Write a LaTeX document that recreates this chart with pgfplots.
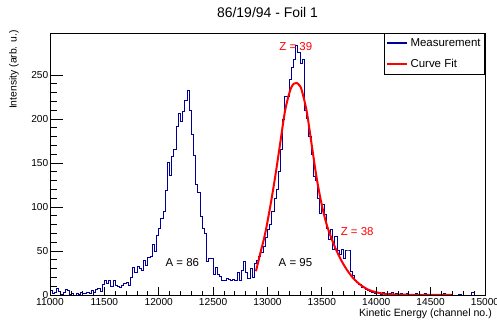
\documentclass[border=0pt]{standalone}
\usepackage{fontspec}
\setmainfont{Liberation Sans}
\usepackage{pgfplots}
\pgfplotsset{compat=1.18}
\usepackage{pgfplotstable}
\definecolor{histblue}{RGB}{0,0,153}

\pgfplotstableread{
ch val
11000 5
11020 2
11040 3
11060 7
11080 4
11100 1
11120 3
11140 6
11160 5
11180 1
11200 2
11220 0
11240 2
11260 1
11280 3
11300 2
11320 2
11340 3
11360 2
11380 5
11400 3
11420 6
11440 7
11460 4
11480 12
11500 16
11520 13
11540 16
11560 10
11580 17
11600 11
11620 10
11640 9
11660 11
11680 13
11700 14
11720 11
11740 20
11760 31
11780 26
11800 32
11820 30
11840 28
11860 39
11880 34
11900 43
11920 44
11940 57
11960 49
11980 68
12000 76
12020 87
12040 95
12060 119
12080 151
12100 136
12120 157
12140 165
12160 191
12180 206
12200 197
12220 208
12240 221
12260 232
12280 210
12300 182
12320 159
12340 125
12360 117
12380 89
12400 76
12420 70
12440 38
12460 42
12480 42
12500 23
12520 31
12540 23
12560 21
12580 17
12600 16
12620 19
12640 18
12660 17
12680 18
12700 17
12720 26
12740 17
12760 28
12780 38
12800 26
12820 19
12840 30
12860 20
12880 36
12900 39
12920 44
12940 48
12960 55
12980 65
13000 74
13020 80
13040 95
13060 110
13080 120
13100 140
13120 165
13140 199
13160 225
13180 226
13200 245
13220 258
13240 268
13260 283
13280 276
13300 263
13320 268
13340 210
13360 200
13380 180
13400 160
13420 135
13440 130
13460 110
13480 93
13500 103
13520 91
13540 76
13560 63
13580 74
13600 52
13620 67
13640 50
13660 46
13680 52
13700 42
13720 50
13740 50
13760 27
13780 22
13800 17
13820 14
13840 12
13860 9
13880 8
13900 6
13920 5
13940 4
13960 3
13980 2
14000 3
14020 2
14040 1
14060 3
14080 2
14100 1
14120 2
14140 3
14160 1
14180 2
14200 1
14220 2
14240 1
14260 0
14280 2
14300 1
14320 1
14340 0
14360 2
14380 1
14400 0
14420 1
14440 2
14460 0
14480 1
14500 0
14520 1
14540 0
14560 0
14580 1
14600 0
14620 2
14640 0
14660 0
14680 1
14700 0
14720 0
14740 0
14760 1
14780 0
14800 0
14820 0
14840 0
14860 0
14880 3
14900 0
14920 0
14940 0
14960 0
14980 0
15000 0
}\hist

\pgfplotstableread{
ch val
12894 27
12931 46
12977 69
13023 99
13069 133
13115 171
13161 209
13207 232
13240 240
13268 241
13295 238
13314 233
13360 209
13406 171
13452 133
13498 103
13544 80
13605 59
13667 42
13728 29
13789 19
13850 12
13927 6
14004 3
14096 1
14218 0.4
14400 0.1
14693 0
}\fit

\begin{document}
\begin{tikzpicture}
\useasboundingbox (0,0) rectangle (497bp,323bp);
\pgfplotsset{
  common/.style={
    at={(50bp,28bp)}, anchor=south west,
    scale only axis, width=435bp, height=262bp,
    xmin=11000, xmax=15000, ymin=0, ymax=297.7,
    tick pos=left, tick align=inside,
    scaled ticks=false,
    /pgf/number format/1000 sep={},
    /pgf/number format/assume math mode=true,
    ticklabel style={font=\fontsize{10.2}{12}\selectfont},
    tick style={black, line width=0.8bp},
  }
}
\begin{axis}[common,
  axis line style={black, line width=0.9bp},
  xtick=\empty,
  ytick={0,50,...,250},
  minor y tick num=4,
  major tick length=13bp, minor tick length=7bp,
  yticklabel style={inner xsep=1.5bp},
  legend style={at={(rel axis cs:1,1)}, anchor=north east,
    draw=black, line width=0.8bp, fill=white,
    font=\fontsize{11.5}{13}\selectfont,
    inner xsep=2bp, inner ysep=3bp, row sep=7.5bp,
    nodes={inner sep=2bp},
    /tikz/every even column/.append style={column sep=3bp}},
  legend cell align=left,
  legend image code/.code={\draw[#1, line width=2.2bp] (0bp,0bp) -- (20bp,0bp);},
]
\addplot[histblue, line width=1bp, const plot mark left, no marks] table[x=ch, y=val] {\hist};
\addlegendentry{Measurement}
\addplot[red, line width=2bp, smooth, no marks] table[x=ch, y=val] {\fit};
\addlegendentry{Curve Fit}
\node[red, anchor=base, font=\fontsize{11.5}{13}\selectfont] at (axis cs:13260,278) {Z = 39};
\node[red, anchor=base, font=\fontsize{11.5}{13}\selectfont] at (axis cs:13825,67.8) {Z = 38};
\node[black, anchor=base, font=\fontsize{11.5}{13}\selectfont] at (axis cs:12217,32.2) {A = 86};
\node[black, anchor=base, font=\fontsize{11.5}{13}\selectfont] at (axis cs:13257,32.6) {A = 95};
\end{axis}
\begin{axis}[common,
  axis line style={draw=none},
  ytick=\empty,
  xtick={11000,11500,...,15000},
  minor x tick num=4,
  major tick length=8bp, minor tick length=4bp,
]
\end{axis}
\node[anchor=base, font=\fontsize{14}{16}\selectfont] at (267.5bp,305.7bp) {86/19/94 - Foil 1};
\node[rotate=90, anchor=base east, inner sep=0pt, font=\fontsize{10.4}{12}\selectfont] at (16.5bp,293bp) {Intensity (arb. u.)};
\node[anchor=base east, inner sep=0pt, font=\fontsize{10.6}{12}\selectfont] at (492bp,6.3bp) {Kinetic Energy (channel no.)};
\end{tikzpicture}
\end{document}
